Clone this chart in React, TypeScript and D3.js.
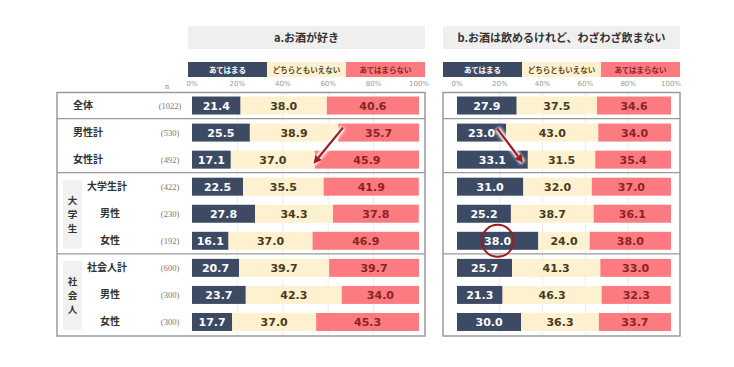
import React from "react";
import * as d3 from "d3";

const categories = ["全体", "男性計", "女性計", "大学生計", "男性", "女性", "社会人計", "男性", "女性"];
const nValues = [1022, 530, 492, 422, 230, 192, 600, 300, 300];
const seriesNames = ["あてはまる", "どちらともいえない", "あてはまらない"];
const aAgree = [21.4, 25.5, 17.1, 22.5, 27.8, 16.1, 20.7, 23.7, 17.7];
const aNeutral = [38.0, 38.9, 37.0, 35.5, 34.3, 37.0, 39.7, 42.3, 37.0];
const aDisagree = [40.6, 35.7, 45.9, 41.9, 37.8, 46.9, 39.7, 34.0, 45.3];
const bAgree = [27.9, 23.0, 33.1, 31.0, 25.2, 38.0, 25.7, 21.3, 30.0];
const bNeutral = [37.5, 43.0, 31.5, 32.0, 38.7, 24.0, 41.3, 46.3, 36.3];
const bDisagree = [34.6, 34.0, 35.4, 37.0, 36.1, 38.0, 33.0, 32.3, 33.7];
const ticks = [0, 20, 40, 60, 80, 100];
const titles = ["a.お酒が好き", "b.お酒は飲めるけれど、わざわざ飲まない"];
const groupLabels = ["大学生", "社会人"];

const COLORS = ["#3d4a63", "#fdf1d0", "#fc7b80"];
const TEXT_COLORS = ["#ffffff", "#4a3a1c", "#8a2424"];
const LEGEND_TEXT = ["#ffffff", "#5a4826", "#8a2424"];
const ARROW = "#9e1b22";
const JP = "'Noto Sans CJK JP', 'Noto Sans', sans-serif";
const NUM = "'DejaVu Sans', Verdana, sans-serif";

const indent = [0, 0, 0, 1, 2, 2, 1, 2, 2];
const indentX = [73, 87, 100];

export default function App() {
  const W = 734, H = 367;
  const y = d3.scaleBand<number>().domain(d3.range(9)).range([92, 335.5]).paddingInner(0.335).paddingOuter(0.1675);
  const step = y.step();
  const panels = [
    { title: titles[0], data: [aAgree, aNeutral, aDisagree], x: d3.scaleLinear().domain([0, 100]).range([192, 419]), box: [57, 425], head: [188, 425] },
    { title: titles[1], data: [bAgree, bNeutral, bDisagree], x: d3.scaleLinear().domain([0, 100]).range([457, 671]), box: [443, 680], head: [443, 680] },
  ];
  const sepRows = [1, 3, 6];
  const boxTop = 92.5, boxBottom = 336;

  return (
    <svg width={W} height={H} style={{ position: "absolute", left: 0, top: 0, background: "#fff" }}>
      <rect x={0} y={0} width={W} height={H} fill="#fff" />
      <defs>
        <filter id="glow" x="-50%" y="-50%" width="200%" height="200%">
          <feGaussianBlur stdDeviation="1.5" />
        </filter>
      </defs>
      {panels.map((p, pi) => {
        const hw = (p.head[1] - p.head[0]) / 3;
        return (
          <g key={pi}>
            <rect x={p.head[0]} y={26} width={p.head[1] - p.head[0]} height={23} fill="#efefef" />
            <text x={(p.head[0] + p.head[1]) / 2} y={41.5} textAnchor="middle" fontFamily={JP} fontWeight="bold" fontSize={11} fill="#333">{p.title}</text>
            {seriesNames.map((s, si) => (
              <g key={si}>
                <rect x={p.head[0] + si * hw} y={62} width={hw} height={15} fill={COLORS[si]} />
                <text x={p.head[0] + si * hw + hw / 2} y={72.5} textAnchor="middle" fontFamily={JP} fontWeight="bold" fontSize={7.5} fill={LEGEND_TEXT[si]}>{s}</text>
              </g>
            ))}
            {ticks.map((t) => (
              <text key={t} x={p.x(t)} y={86} textAnchor="middle" fontFamily={NUM} fontSize={7} fill="#999">{t}%</text>
            ))}
            {ticks.slice(1, -1).map((t) => (
              <line key={t} x1={p.x(t)} x2={p.x(t)} y1={boxTop} y2={boxBottom} stroke="#ececec" strokeWidth={1} />
            ))}
            <rect x={p.box[0]} y={boxTop} width={p.box[1] - p.box[0]} height={boxBottom - boxTop} fill="none" stroke="#9a9a9a" strokeWidth={1.5} />
            {sepRows.map((r) => (
              <line key={r} x1={p.box[0]} x2={p.box[1]} y1={(y(r) as number) - step * 0.1675 - 0.5} y2={(y(r) as number) - step * 0.1675 - 0.5} stroke="#9a9a9a" strokeWidth={1.2} />
            ))}
            {categories.map((c, ri) => {
              let acc = 0;
              return (
                <g key={ri}>
                  {p.data.map((series, si) => {
                    const v = series[ri];
                    const x0 = p.x(acc);
                    acc += v;
                    const x1 = p.x(Math.min(acc, 100));
                    return (
                      <g key={si}>
                        <rect x={x0} y={y(ri)} width={x1 - x0} height={y.bandwidth()} fill={COLORS[si]} />
                        <text x={(x0 + x1) / 2} y={(y(ri) as number) + y.bandwidth() / 2 + 4} textAnchor="middle" fontFamily={NUM} fontWeight="bold" fontSize={11} fill={TEXT_COLORS[si]}>{v.toFixed(1)}</text>
                      </g>
                    );
                  })}
                </g>
              );
            })}
          </g>
        );
      })}
      <text x={167} y={89} textAnchor="middle" fontFamily="'Liberation Serif', serif" fontSize={8} fill="#888">n</text>
      {categories.map((c, ri) => {
        const cy = (y(ri) as number) + y.bandwidth() / 2;
        return (
          <g key={ri}>
            <text x={indentX[indent[ri]]} y={cy + 3.5} fontFamily={JP} fontWeight="bold" fontSize={10} fill="#333">{c}</text>
            <text x={170} y={cy + 3} textAnchor="middle" fontFamily="'Liberation Serif', serif" fontSize={8.5} fill="#777">({nValues[ri]})</text>
          </g>
        );
      })}
      {groupLabels.map((g, gi) => {
        const r0 = gi === 0 ? 3 : 6;
        const top = (y(r0) as number) + 2;
        const bottom = (y(r0 + 2) as number) + y.bandwidth() - 1;
        const mid = (top + bottom) / 2;
        return (
          <g key={gi}>
            <rect x={63} y={top} width={19} height={bottom - top} fill="#f1f1f1" rx={2} />
            {g.split("").map((ch, ci) => (
              <text key={ci} x={72.5} y={mid + (ci - 1) * 14 + 3.5} textAnchor="middle" fontFamily={JP} fontWeight="bold" fontSize={9.5} fill="#333">{ch}</text>
            ))}
          </g>
        );
      })}
      {(() => {
        const pA = panels[0].x, pB = panels[1].x;
        const r1 = (y(1) as number) + y.bandwidth() / 2;
        const r2 = (y(2) as number) + y.bandwidth() / 2;
        const arrows = [
          { x1: pA(66.5), y1: r1 - 5, x2: pA(53.5), y2: r2 + 4 },
          { x1: pB(18.8), y1: r1 - 4, x2: pB(30.8), y2: r2 + 3 },
        ];
        const r5 = (y(5) as number) + y.bandwidth() / 2;
        return (
          <g>
            {arrows.map((a, i) => {
              const ang = Math.atan2(a.y2 - a.y1, a.x2 - a.x1);
              const L = 8, Wd = 4;
              const bx = a.x2 - L * Math.cos(ang), by = a.y2 - L * Math.sin(ang);
              const pts = [
                [a.x2, a.y2],
                [bx + Wd * Math.sin(ang), by - Wd * Math.cos(ang)],
                [bx - Wd * Math.sin(ang), by + Wd * Math.cos(ang)],
              ].map((q) => q.join(",")).join(" ");
              return (
                <g key={i}>
                  <line x1={a.x1} y1={a.y1} x2={a.x2} y2={a.y2} stroke="#ffffff" strokeWidth={6} filter="url(#glow)" />
                  <line x1={a.x1} y1={a.y1} x2={bx} y2={by} stroke={ARROW} strokeWidth={2.2} />
                  <polygon points={pts} fill={ARROW} />
                </g>
              );
            })}
            <circle cx={pB(19)} cy={r5} r={16} fill="none" stroke={ARROW} strokeWidth={2} />
          </g>
        );
      })()}
    </svg>
  );
}
